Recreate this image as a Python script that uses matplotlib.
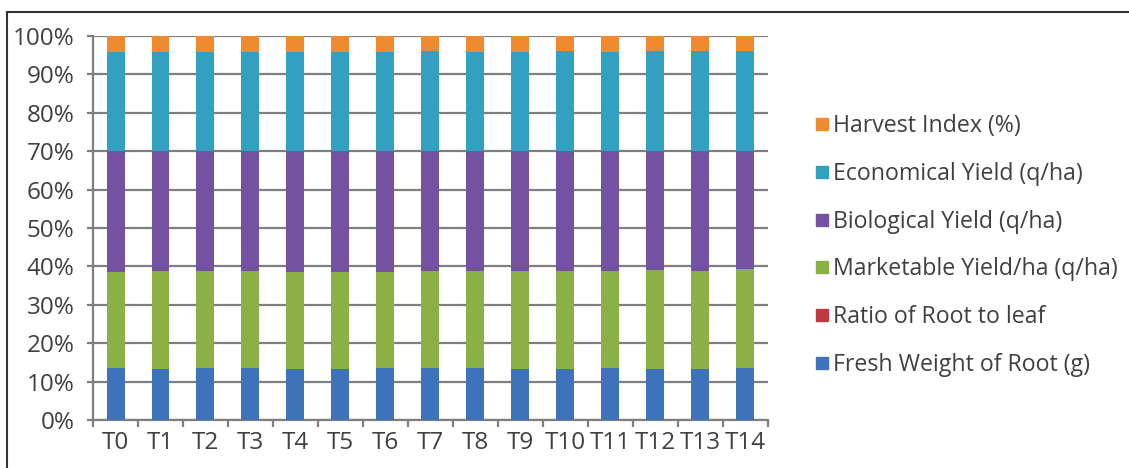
import numpy as np
import matplotlib.pyplot as plt
from matplotlib.lines import Line2D
from matplotlib.ticker import MultipleLocator, FixedLocator, PercentFormatter

# treatments
treatments = ["T0", "T1", "T2", "T3", "T4", "T5", "T6", "T7",
              "T8", "T9", "T10", "T11", "T12", "T13", "T14"]

# share of each parameter in the stacked bar (%)
fresh_weight = [13.5, 13.4, 13.5, 13.5, 13.4, 13.4, 13.5, 13.5, 13.5, 13.4, 13.4, 13.5, 13.4, 13.4, 13.5]
root_leaf    = [0.005] * 15
marketable   = [25.1, 25.5, 25.3, 25.2, 25.2, 25.1, 25.1, 25.3, 25.3, 25.4, 25.5, 25.4, 25.7, 25.5, 25.7]
biological   = [31.4, 31.2, 31.3, 31.3, 31.4, 31.5, 31.4, 31.3, 31.2, 31.3, 31.2, 31.2, 31.0, 31.2, 30.9]
economical   = [25.9, 25.8, 25.8, 25.9, 25.9, 25.9, 25.9, 25.9, 25.9, 25.8, 25.9, 25.8, 25.9, 25.9, 26.0]
harvest_idx  = [4.1, 4.1, 4.1, 4.1, 4.1, 4.1, 4.1, 4.0, 4.1, 4.1, 4.0, 4.1, 4.0, 4.0, 3.9]

series = [
    ("Fresh Weight of Root (g)", fresh_weight, "#3f73b9"),
    ("Ratio of Root to leaf", root_leaf, "#bb3b40"),
    ("Marketable Yield/ha (q/ha)", marketable, "#8bb045"),
    ("Biological Yield (q/ha)", biological, "#7551a1"),
    ("Economical Yield (q/ha)", economical, "#31a0c1"),
    ("Harvest Index (%)", harvest_idx, "#f08a2f"),
]

plt.rcParams["font.family"] = ["Open Sans", "DejaVu Sans"]

fig = plt.figure(figsize=(11.29, 4.68), dpi=100)
ax = fig.add_axes([0.0824, 0.1026, 0.5976, 0.8204])

data = np.array([s[1] for s in series], dtype=float)
shares = data / data.sum(axis=0) * 100
x = np.arange(len(treatments))
bottom = np.zeros(len(treatments))
handles = []
for (name, _, col), vals in zip(series, shares):
    ax.bar(x, vals, bottom=bottom, width=0.4, color=col, linewidth=0, zorder=3)
    bottom += vals
    handles.append(Line2D([], [], marker="s", linestyle="none", markersize=8,
                          markerfacecolor=col, markeredgecolor=col, label=name))

ax.set_xlim(-0.5, len(treatments) - 0.5)
ax.set_ylim(0, 100)
ax.yaxis.set_major_locator(MultipleLocator(10))
ax.yaxis.set_major_formatter(PercentFormatter(decimals=0))
ax.grid(axis="y", color="#7f7f7f", linewidth=1.6, zorder=0)

ax.set_xticks(x)
ax.set_xticklabels(treatments)
ax.xaxis.set_minor_locator(FixedLocator(np.arange(-0.5, len(treatments), 1.0)))
ax.tick_params(axis="x", which="major", length=0, pad=8, labelsize=17.5, labelcolor="#404040")
ax.tick_params(axis="x", which="minor", length=5, width=1.6, color="#7f7f7f")
ax.tick_params(axis="y", length=4.3, width=1.6, color="#7f7f7f", labelsize=17.5,
               labelcolor="#404040", pad=9)

for side in ["top", "right"]:
    ax.spines[side].set_visible(False)
for side in ["left", "bottom"]:
    ax.spines[side].set_color("#7f7f7f")
    ax.spines[side].set_linewidth(1.6)

leg = fig.legend(handles=handles[::-1], loc="upper left", bbox_to_anchor=(0.700, 0.80),
                 frameon=False, fontsize=16.7, handletextpad=0.05, labelspacing=1.02,
                 handlelength=0.9, labelcolor="#404040")

# outer chart border (top and left edges visible)
fig.add_artist(Line2D([7 / 1129, 1.0], [1 - 12 / 468] * 2, color="#333333", linewidth=1.5,
                      transform=fig.transFigure))
fig.add_artist(Line2D([7 / 1129] * 2, [0, 1 - 12 / 468], color="#333333", linewidth=1.5,
                      transform=fig.transFigure))

fig.savefig("out.png", dpi=100)
